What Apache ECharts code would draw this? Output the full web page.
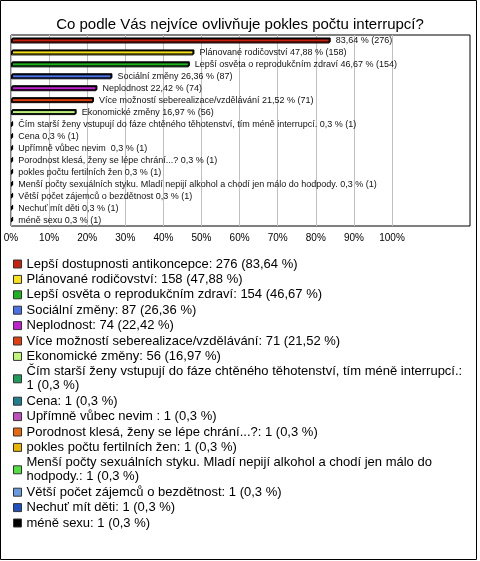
<!DOCTYPE html>
<html>
<head>
<meta charset="utf-8">
<script src="https://cdn.jsdelivr.net/npm/echarts@6/dist/echarts.min.js"></script>
<style>html,body{margin:0;padding:0;background:#fff}#c{width:480px;height:561px}</style>
</head>
<body>
<div id="c"></div>
<script>
var categories = [
  "Lepší dostupnosti antikoncepce",
  "Plánované rodičovství",
  "Lepší osvěta o reprodukčním zdraví",
  "Sociální změny",
  "Neplodnost",
  "Více možností seberealizace/vzdělávání",
  "Ekonomické změny",
  "Čím starší ženy vstupují do fáze chtěného těhotenství, tím méně interrupcí.",
  "Cena",
  "Upřímně vůbec nevim ",
  "Porodnost klesá, ženy se lépe chrání...?",
  "pokles počtu fertilních žen",
  "Menší počty sexuálních styku. Mladí nepijí alkohol a chodí jen málo do hodpody.",
  "Větší počet zájemců o bezdětnost",
  "Nechuť mít děti",
  "méně sexu"
];
var counts = [276, 158, 154, 87, 74, 71, 56, 1, 1, 1, 1, 1, 1, 1, 1, 1];
var percents = [83.64, 47.88, 46.67, 26.36, 22.42, 21.52, 16.97, 0.3, 0.3, 0.3, 0.3, 0.3, 0.3, 0.3, 0.3, 0.3];
var colors = ["#c8200e", "#f7e21a", "#1fb41f", "#4a72e8", "#c21fd0", "#e0400f", "#bef57a", "#1e9c5a",
              "#1f7f8f", "#c050c0", "#e86a10", "#e8b400", "#50e040", "#6a9ae0", "#2050c0", "#000000"];
var xTicks = [0, 10, 20, 30, 40, 50, 60, 70, 80, 90, 100];

var FONT = "Liberation Sans";
function fmt(v) { return String(v).replace('.', ','); }

var series = categories.map(function (name, i) {
  return {
    type: 'bar',
    name: name,
    xAxisIndex: 1,
    yAxisIndex: 1,
    stack: 'all',
    barWidth: 5,
    data: categories.map(function (c, j) { return j === i ? percents[i] : '-'; }),
    itemStyle: {
      color: colors[i],
      borderColor: '#000',
      borderWidth: 1,
      shadowColor: '#000',
      shadowOffsetX: 1,
      shadowOffsetY: -1,
      shadowBlur: 0
    },
    label: {
      show: true,
      position: 'right',
      distance: 6,
      fontSize: 9,
      fontFamily: FONT,
      color: '#111',
      formatter: function () {
        return (i === 0 ? '' : name + ' ') + fmt(percents[i]) + ' % (' + counts[i] + ')';
      }
    },
    emphasis: { disabled: true }
  };
});

// per-item wrap widths (library's text measurement over-counts accented characters)
var legendWrap = { 7: 551, 12: 505 };
var legendData = categories.map(function (name, i) {
  return {
    name: name,
    textStyle: {
      fontFamily: FONT, fontSize: 13, color: '#000', lineHeight: 14,
      width: legendWrap[i] || 600, overflow: 'break'
    }
  };
});

var chart = echarts.init(document.getElementById('c'), null, { renderer: 'canvas' });
chart.setOption({
  animation: false,
  backgroundColor: '#fff',
  textStyle: { fontFamily: FONT },
  title: {
    text: 'Co podle Vás nejvíce ovlivňuje pokles počtu interrupcí?',
    left: 'center',
    top: 12,
    textStyle: { fontFamily: FONT, fontSize: 15, fontWeight: 'normal', color: '#000' }
  },
  graphic: [{
    type: 'rect',
    shape: { x: 0.5, y: 0.5, width: 476, height: 559 },
    style: { fill: 'none', stroke: '#000', lineWidth: 1 },
    silent: true
  }],
  grid: [
    { left: 11, top: 35, width: 459, height: 191, show: true, borderColor: '#000', borderWidth: 1, backgroundColor: 'transparent' },
    { left: 11, top: 35, width: 381, height: 191 }
  ],
  xAxis: [
    { gridIndex: 0, type: 'value', show: false },
    {
      gridIndex: 1, type: 'value', min: 0, max: 100, interval: 10,
      axisLine: { show: false }, axisTick: { show: false },
      splitLine: { show: true, lineStyle: { color: '#c0c0c0', width: 1 } },
      axisLabel: {
        margin: 7, fontSize: 10, fontFamily: FONT, color: '#000',
        formatter: function (v) { return xTicks.indexOf(v) >= 0 ? v + '%' : ''; }
      }
    }
  ],
  yAxis: [
    { gridIndex: 0, type: 'value', show: false },
    {
      gridIndex: 1, type: 'category', data: categories, inverse: true,
      axisLine: { show: false }, axisTick: { show: false }, axisLabel: { show: false },
      splitLine: { show: false }
    }
  ],
  legend: {
    orient: 'vertical',
    left: 8,
    top: 252,
    width: 470,
    itemWidth: 8,
    itemHeight: 8,
    itemGap: 1.4,
    icon: 'rect',
    selectedMode: false,
    data: legendData,
    itemStyle: { shadowBlur: 0, shadowOffsetX: 0, shadowOffsetY: 0, shadowColor: 'transparent', borderColor: '#333', borderWidth: 1 },
    textStyle: {
      fontFamily: FONT, fontSize: 13, color: '#000', lineHeight: 14,
      width: 600, overflow: 'break'
    },
    formatter: function (name) {
      var i = categories.indexOf(name);
      return name + ': ' + counts[i] + ' (' + fmt(percents[i]) + ' %)';
    }
  },
  series: series
});
</script>
</body>
</html>
